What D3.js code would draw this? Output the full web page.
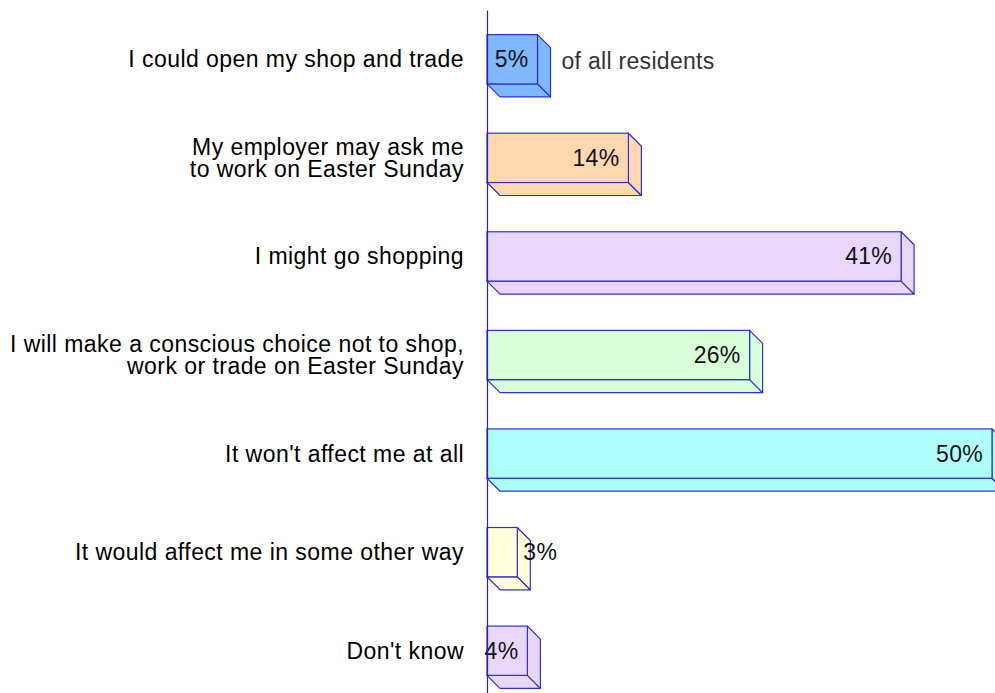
<!DOCTYPE html>
<html>
<head>
<meta charset="utf-8">
<script src="https://cdn.jsdelivr.net/npm/d3@7"></script>
<style>
  body { margin: 0; background: #fff; }
  svg text { font-family: "Liberation Sans", Arial, Helvetica, sans-serif; }
</style>
</head>
<body>
<script>
// answers to "how would Easter Sunday trading affect you"
const categories = [
  "I could open my shop and trade",
  "My employer may ask me\nto work on Easter Sunday",
  "I might go shopping",
  "I will make a conscious choice not to shop,\nwork or trade on Easter Sunday",
  "It won't affect me at all",
  "It would affect me in some other way",
  "Don't know"
];
const values = [5, 14, 41, 26, 50, 3, 4];
const colors = ["#80b8ff", "#ffd8b0", "#e8d8ff", "#d8ffd8", "#b0ffff", "#ffffd8", "#e8d8ff"];
const note = "of all residents";

const W = 995, H = 693;
const axisX = 487, depth = 13;

const svg = d3.select("body").append("svg")
  .attr("width", W)
  .attr("height", H);

const x = d3.scaleLinear()
  .domain([0, 50])
  .range([0, 505]);

const y = d3.scaleBand()
  .domain(categories)
  .range([10, 700])
  .paddingInner(0.5)
  .paddingOuter(0.25);

const data = categories.map((c, i) => ({ cat: c, value: values[i], color: colors[i] }));

const stroke = "#2f2fe2";

const bars = svg.append("g")
  .attr("transform", `translate(${axisX},0)`)
  .selectAll("g")
  .data(data)
  .enter()
  .append("g");

// bottom face
bars.append("path")
  .attr("d", d => {
    const x1 = x(d.value), y1 = y(d.cat) + y.bandwidth();
    return `M0,${y1}L${x1},${y1}L${x1 + depth},${y1 + depth}L${depth},${y1 + depth}Z`;
  })
  .attr("fill", d => d.color)
  .attr("stroke", stroke)
  .attr("stroke-width", 1.2)
  .attr("stroke-linejoin", "round");

// side face
bars.append("path")
  .attr("d", d => {
    const x1 = x(d.value), y0 = y(d.cat), y1 = y0 + y.bandwidth();
    return `M${x1},${y0}L${x1 + depth},${y0 + depth}L${x1 + depth},${y1 + depth}L${x1},${y1}Z`;
  })
  .attr("fill", d => d.color)
  .attr("stroke", stroke)
  .attr("stroke-width", 1.2)
  .attr("stroke-linejoin", "round");

// front face
bars.append("rect")
  .attr("x", 0)
  .attr("y", d => y(d.cat))
  .attr("width", d => x(d.value))
  .attr("height", y.bandwidth())
  .attr("fill", d => d.color)
  .attr("stroke", stroke)
  .attr("stroke-width", 1.2);

// value labels: inside the front face if they fit, otherwise just past it
bars.append("text")
  .attr("y", d => y(d.cat) + y.bandwidth() / 2 + 8)
  .attr("font-size", "23px")
  .attr("letter-spacing", "0.3px")
  .attr("fill", "#111")
  .text(d => d.value + "%")
  .each(function(d) {
    const w = this.getComputedTextLength();
    const bw = x(d.value);
    if (w < bw) {
      d3.select(this).attr("x", bw - 9).attr("text-anchor", "end");
    } else {
      d3.select(this).attr("x", bw + 6).attr("text-anchor", "start");
    }
  });

// note next to the first bar
svg.append("text")
  .attr("x", axisX + x(values[0]) + depth + 11)
  .attr("y", y(categories[0]) + y.bandwidth() / 2 + 10)
  .attr("font-size", "23px")
  .attr("letter-spacing", "0.3px")
  .attr("fill", "#333")
  .text(note);

// vertical axis, no ticks
svg.append("g")
  .attr("transform", `translate(${axisX},0)`)
  .call(d3.axisLeft(y).tickSize(0).tickFormat(""))
  .select(".domain")
  .attr("stroke", "#2222c0")
  .attr("stroke-width", 1.2);

// category labels, right aligned, one or two lines
const labels = svg.append("g")
  .selectAll("text")
  .data(categories)
  .enter()
  .append("text")
    .attr("text-anchor", "end")
    .attr("font-size", "23px")
    .attr("letter-spacing", "0.45px")
    .attr("fill", "#000");

labels.each(function(c) {
  const lines = c.split("\n");
  const mid = y(c) + y.bandwidth() / 2;
  const lh = 22;
  const first = mid + 8 - (lines.length - 1) * lh / 2;
  lines.forEach((ln, i) => {
    d3.select(this).append("tspan")
      .attr("x", 464)
      .attr("y", first + i * lh)
      .text(ln);
  });
});
</script>
</body>
</html>
